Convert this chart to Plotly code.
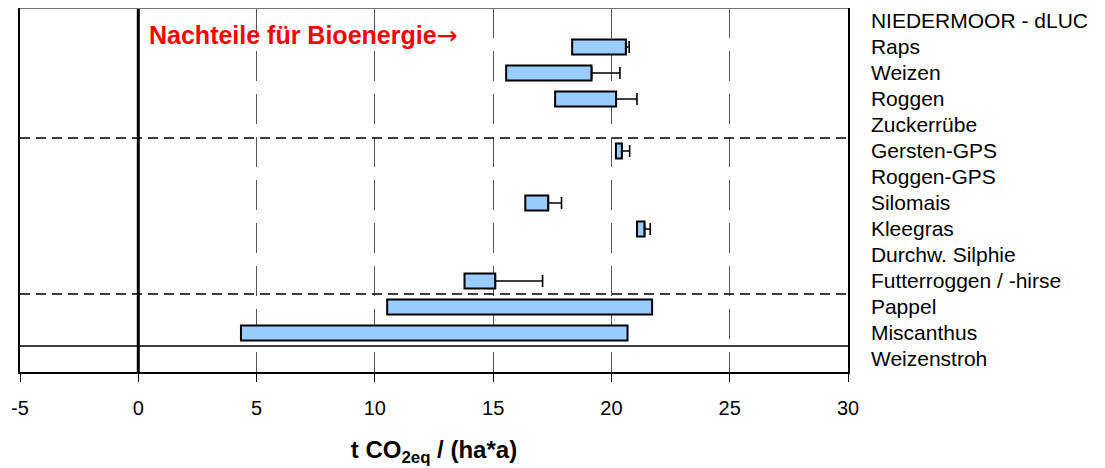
import plotly.graph_objects as go

categories = ["NIEDERMOOR - dLUC", "Raps", "Weizen", "Roggen", "Zuckerrübe",
              "Gersten-GPS", "Roggen-GPS", "Silomais", "Kleegras", "Durchw. Silphie",
              "Futterroggen / -hirse", "Pappel", "Miscanthus", "Weizenstroh"]
bar_start = [None, 18.34, 15.55, 17.62, None, 20.19, None, 16.36, 21.08, None, 13.79, 10.52, 4.34, None]
bar_end =   [None, 20.61, 19.16, 20.20, None, 20.44, None, 17.33, 21.40, None, 15.09, 21.72, 20.68, None]
err_end =   [None, 20.75, 20.36, 21.08, None, 20.77, None, 17.89, 21.64, None, 17.09, None, None, None]
x_ticks = [-5, 0, 5, 10, 15, 20, 25, 30]

FONT = "Liberation Sans, Arial, sans-serif"

bar_len = [None if s is None else e - s for s, e in zip(bar_start, bar_end)]

fig = go.Figure()
fig.add_trace(go.Bar(
    y=categories, x=bar_len, base=bar_start, orientation="h", width=0.57,
    marker=dict(color="#99CCFF", line=dict(color="black", width=2)),
    hoverinfo="skip", showlegend=False,
))

ey = [c for c, e in zip(categories, err_end) if e is not None]
ex = [b for b, e in zip(bar_end, err_end) if e is not None]
eplus = [e - b for b, e in zip(bar_end, err_end) if e is not None]
fig.add_trace(go.Scatter(
    y=ey, x=ex, mode="markers",
    marker=dict(size=1, color="rgba(0,0,0,0)"),
    error_x=dict(type="data", symmetric=False, array=eplus, arrayminus=[0] * len(eplus),
                 color="black", thickness=1.6, width=6),
    hoverinfo="skip", showlegend=False,
))

# thick zero line
fig.add_shape(type="line", xref="x", yref="paper", x0=0, x1=0, y0=0, y1=1,
              line=dict(color="black", width=3))
# group separators
for yv, dash in [(4.5, "10px,6px"), (10.5, "10px,6px"), (12.5, "solid")]:
    fig.add_shape(type="line", xref="paper", yref="y", x0=0, x1=1, y0=yv, y1=yv,
                  line=dict(color="black", width=1.6, dash=dash))
# grey top frame line
fig.add_shape(type="line", xref="paper", yref="paper", x0=0, x1=1, y0=1, y1=1,
              line=dict(color="#777777", width=2))

fig.add_annotation(
    text="<b>Nachteile für Bioenergie</b><span style='font-family:DejaVu Sans;font-weight:normal'>→</span>",
    xref="x", yref="y", x=0.35, y=0.55, xanchor="left", yanchor="middle", showarrow=False,
    font=dict(family=FONT, size=25, color="#FF0000"))

fig.update_layout(
    width=1105, height=468,
    margin=dict(l=12, r=265, t=0, b=104),
    plot_bgcolor="white", paper_bgcolor="white",
    font=dict(family=FONT, color="black"),
)
fig.update_xaxes(
    range=[-5, 30], tickvals=x_ticks, ticktext=[str(v) for v in x_ticks],
    showgrid=True, gridcolor="#555555", gridwidth=1, griddash="30px,13px",
    zeroline=False, showline=True, linecolor="black", linewidth=1.5, mirror=True,
    ticks="outside", ticklen=8, tickcolor="black", tickwidth=1,
    tickfont=dict(family=FONT, size=20, color="black"), ticklabelstandoff=9,
    title=dict(text="<b>t CO<sub>2eq</sub> / (ha*a)</b>",
               font=dict(family=FONT, size=24, color="black"), standoff=23),
    automargin=False,
)
fig.update_yaxes(
    type="category", categoryorder="array", categoryarray=categories,
    range=[13.5, -0.5], side="right", showgrid=False, zeroline=False,
    showline=True, linecolor="black", linewidth=1.5, mirror=True,
    ticks="", tickfont=dict(family=FONT, size=21, color="black"), ticklabelstandoff=17,
    automargin=False,
)

fig.write_html("out.html")
